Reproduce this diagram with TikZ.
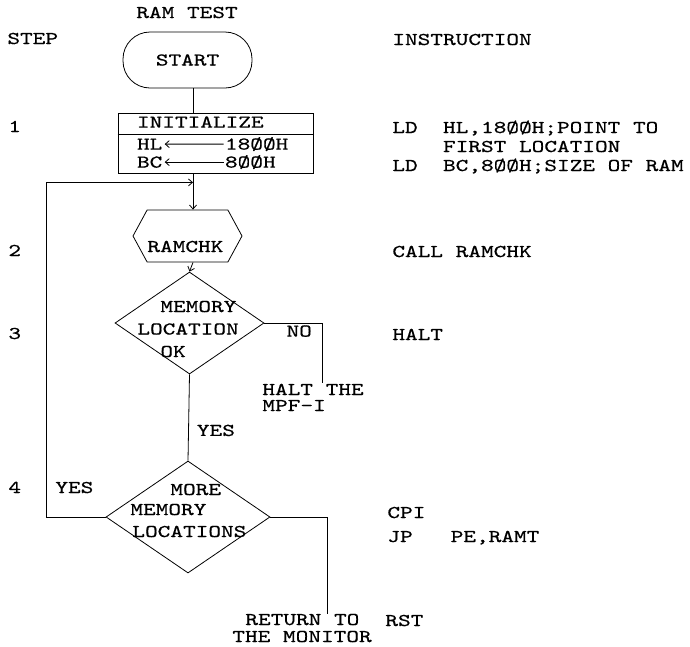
\documentclass[tikz,border=0pt]{standalone}
\usepackage{fontspec}
\setmainfont{lmmono10-regular.otf}[FakeStretch=1.34, FakeBold=0.6]
\usetikzlibrary{arrows.meta,calc,shapes.geometric,shapes.symbols}

\begin{document}
\begin{tikzpicture}[
  x=1pt, y=1pt,
  font=\fontsize{18}{19}\selectfont,
  >={Straight Barb[length=4pt, width=7pt]},
  line width=0.8pt,
  txt/.style={anchor=base west, inner sep=0pt, align=left},
  terminal/.style={draw, rounded corners=27pt, minimum width=129pt, minimum height=56pt},
  initbox/.style={draw, minimum width=195pt, minimum height=60pt},
  subroutine/.style={draw, signal, signal to=east and west, signal pointer angle=123, minimum width=109pt, minimum height=52pt, inner sep=0pt},
  decision/.style={draw, diamond, inner sep=0pt},
  link/.style={->},
  flow/.style={-}
]
\useasboundingbox (0,0) rectangle (690,-646);

% Headings of the three columns
\node[txt, anchor=base] (title) at (187,-18) {RAM TEST};
\node[txt] (steplbl) at (7,-44) {STEP};
\node[txt] (instrlbl) at (392,-45) {INSTRUCTION};

% Step numbers
\foreach \num/\y in {1/132, 2/256, 3/339, 4/493}
  \node[txt] (step\num) at (8,-\y) {\num};

% Instructions (base is the last line)
\node[txt] (instr1) at (392,-171) {LD~~HL,18ØØH;POINT TO\\~~~~FIRST LOCATION\\LD~~BC,8ØØH;SIZE OF RAM};
\node[txt] (instr2) at (392,-257) {CALL RAMCHK};
\node[txt] (instr3) at (392,-340) {HALT};
\node[txt] (instr4) at (387,-542) {CPI\\[5pt]JP~~~PE,RAMT};
\node[txt] (instr5) at (385,-626) {RST};

% Start and initialisation
\coordinate (spine) at (193,0);
\node[terminal] (start) at (187.5,-60) {START};
\node[initbox] (init) at (215.5,-143) {};
\draw ($(init.north west)+(0,-22)$) -- ($(init.north east)+(0,-22)$);
\node[txt] (initlbl) at ($(init.north west)+(19,-15)$) {INITIALIZE};
\node[txt] (hl) at ($(init.north west)+(19,-37)$) {HL};
\node[txt] (hlval) at ($(init.north west)+(107,-37)$) {18ØØH};
\node[txt] (bc) at ($(init.north west)+(19,-55)$) {BC};
\node[txt] (bcval) at ($(init.north west)+(107,-55)$) {8ØØH};
\foreach \src/\dst in {hlval/hl, bcval/bc}
  \draw[link, shorten <=1pt, shorten >=2pt] (\src.west) -- (\dst.east);
\draw[flow] (start.south -| spine) -- (init.north -| spine);

% Subroutine call
\node[subroutine] (ramchk) at (187.5,-236) {};
\node[txt] (ramchklbl) at ($(ramchk.center)+(-40.5,-16)$) {RAMCHK};
\coordinate (join) at ($(init.south -| spine)+(0,-9)$);
\draw[link] (init.south -| spine) -- (ramchk.north -| spine);

% Check of one location
\node[decision, minimum width=149pt, minimum height=102pt] (okchk) at (189.5,-323) {};
\node[txt] (oklbl) at (137,-357) {\hspace*{23pt}MEMORY\\[3.5pt]LOCATION\\[3.5pt]\hspace*{23pt}OK};
\draw[link] (ramchk.south -| spine) -- (okchk.north);
\coordinate (nocorner) at ($(okchk.east)+(58,0)$);
\node[txt] (haltlbl) at (262,-411) {HALT THE\\[-3pt]MPF-I};
\draw[flow] (okchk.east) -- node[pos=0.6, below=2pt, inner sep=0pt] {NO} (nocorner) -- (nocorner |- haltlbl.north);

% More locations to test
\node[decision, minimum width=164pt, minimum height=112pt] (morechk) at (188,-517) {};
\node[txt] (morelbl) at (130,-537) {\hspace*{40pt}MORE\\[1pt]MEMORY\\[3pt]\hspace*{2pt}LOCATIONS};
\draw[flow] (okchk.south) -- node[pos=0.65, right=8pt, inner sep=0pt] {YES} (morechk.north);

% Loop back and exit
\coordinate (loopx) at (46,0);
\draw[link] (morechk.west) -- (morechk.west -| loopx) |- (join);
\node[txt] (yesloop) at (55,-493) {YES};
\coordinate (retcorner) at ($(morechk.east)+(57,0)$);
\node[txt] (retlbl) at (232,-642) {\hspace*{13pt}RETURN TO\\[-2pt]THE MONITOR};
\draw[flow] (morechk.east) -- (retcorner) -- ($(retcorner |- retlbl.north)+(0,-1)$);

\end{tikzpicture}
\end{document}
